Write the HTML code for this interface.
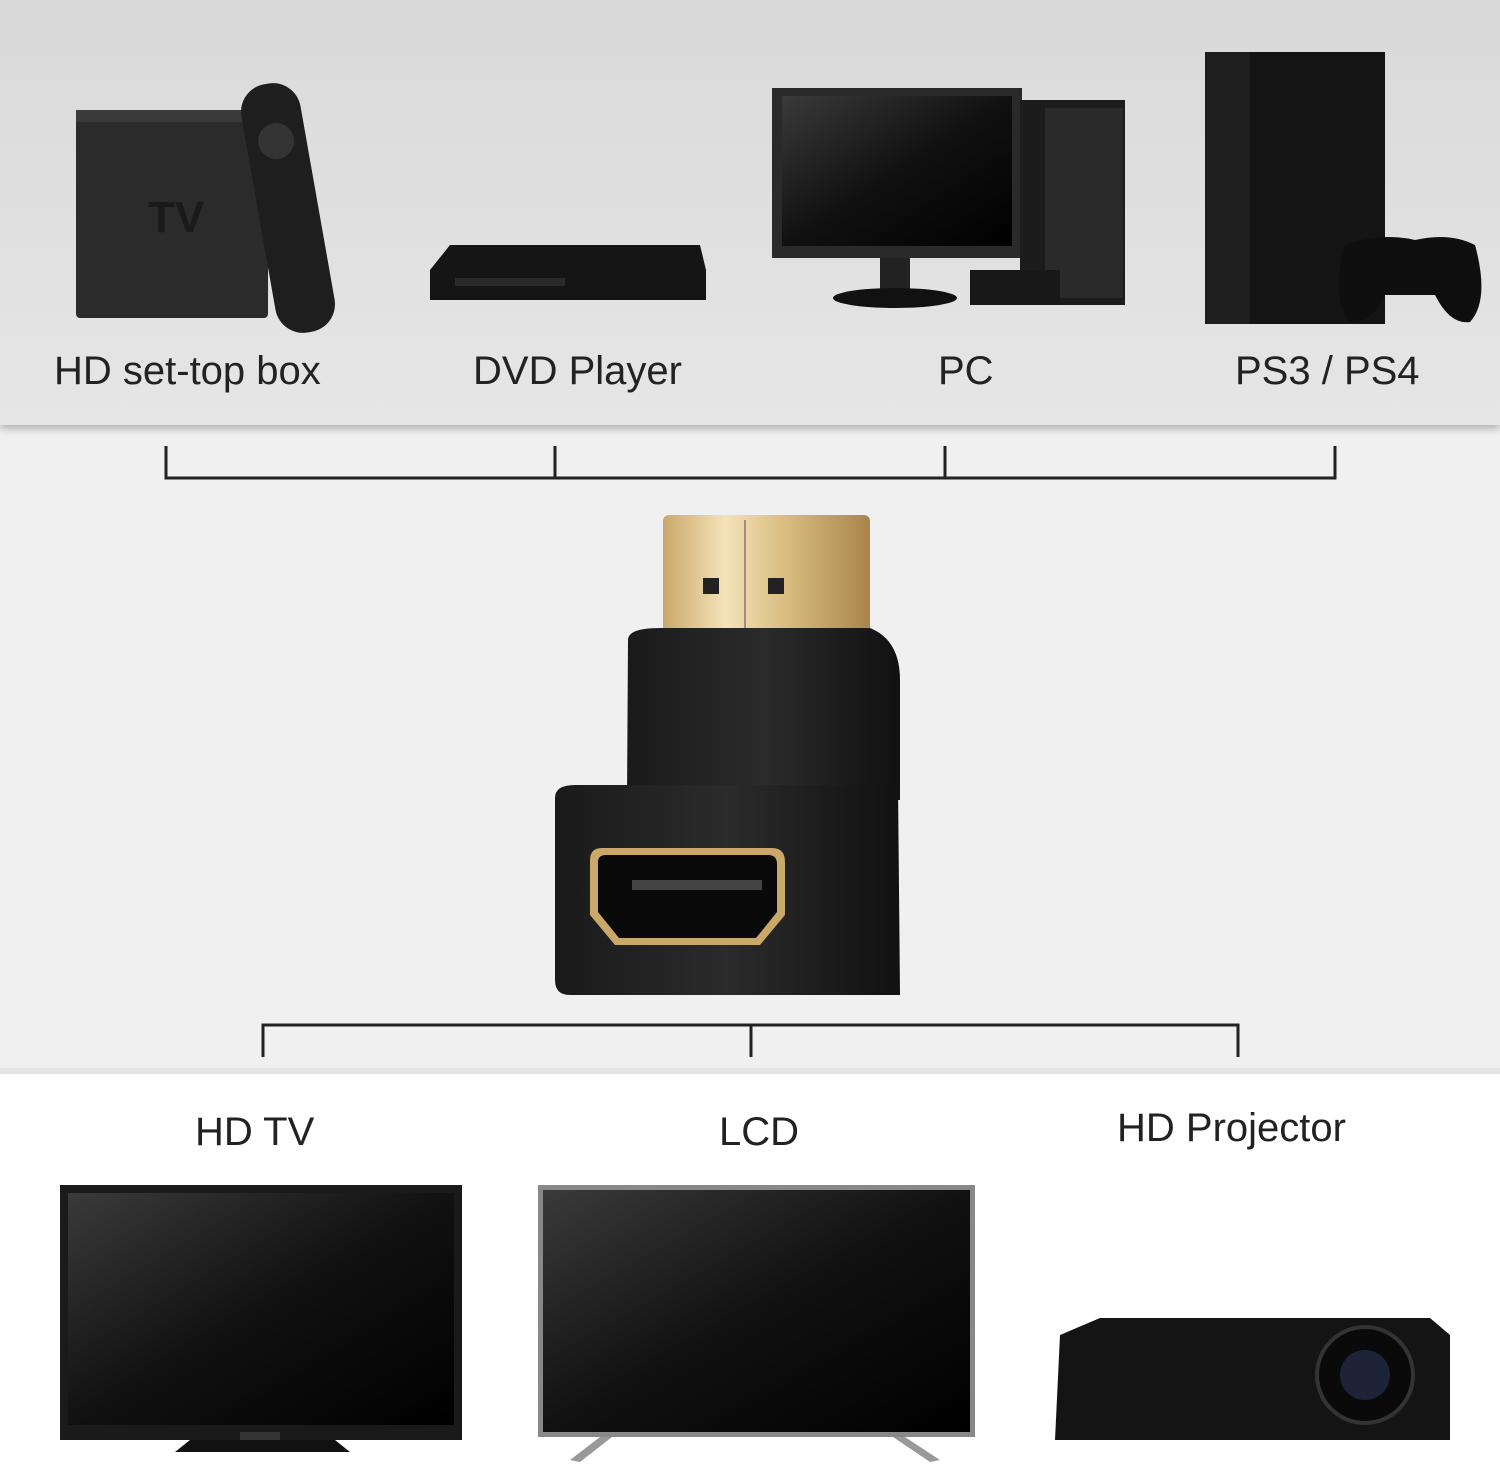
<!DOCTYPE html>
<html><head><meta charset="utf-8"><style>
html,body{margin:0;padding:0;background:#fff}
svg{display:block}
text{font-family:"Liberation Sans",sans-serif;fill:#222}
</style></head><body>
<svg width="1500" height="1475" viewBox="0 0 1500 1475" xmlns="http://www.w3.org/2000/svg">
<defs>
<linearGradient id="bg1" x1="0" y1="0" x2="0" y2="1"><stop offset="0" stop-color="#d9d9d9"/><stop offset="1" stop-color="#e6e6e6"/></linearGradient>
<linearGradient id="scr" x1="0" y1="0" x2="1" y2="1"><stop offset="0" stop-color="#3a3a3a"/><stop offset="0.5" stop-color="#111"/><stop offset="1" stop-color="#000"/></linearGradient>
<linearGradient id="gold" x1="0" y1="0" x2="1" y2="0"><stop offset="0" stop-color="#c9a86a"/><stop offset="0.3" stop-color="#f4e3b8"/><stop offset="0.6" stop-color="#d8bb80"/><stop offset="1" stop-color="#a9854b"/></linearGradient>
<linearGradient id="blk" x1="0" y1="0" x2="1" y2="0"><stop offset="0" stop-color="#1a1a1a"/><stop offset="0.5" stop-color="#2b2b2b"/><stop offset="1" stop-color="#111"/></linearGradient>
<filter id="sh" x="-5%" y="-5%" width="110%" height="130%"><feDropShadow dx="0" dy="4" stdDeviation="4" flood-color="#000" flood-opacity="0.25"/></filter>
</defs>
<rect x="0" y="0" width="1500" height="1475" fill="#fff"/>
<rect x="0" y="425" width="1500" height="647" fill="#f0f0f0"/>
<rect x="0" y="1068" width="1500" height="6" fill="#e4e4e4"/>
<rect x="0" y="0" width="1500" height="425" fill="url(#bg1)" filter="url(#sh)"/>

<!-- TV box + remote -->
<rect x="76" y="110" width="192" height="208" rx="4" fill="#2b2b2b"/>
<rect x="76" y="110" width="192" height="12" fill="#3a3a3a"/>
<text x="148" y="232" font-size="44" font-weight="bold" style="fill:#1a1a1a">TV</text>
<g transform="rotate(-10 288 208)"><rect x="258" y="82" width="60" height="252" rx="28" fill="#1e1e1e"/><circle cx="288" cy="140" r="18" fill="#333"/></g>
<!-- DVD -->
<path d="M430 270 L450 245 L700 245 L706 270 L706 300 L430 300 Z" fill="#151515"/>
<rect x="455" y="278" width="110" height="8" fill="#2a2a2a"/>
<!-- PC monitor -->
<rect x="772" y="88" width="250" height="170" fill="#2a2a2a"/>
<rect x="782" y="96" width="230" height="150" fill="url(#scr)"/>
<rect x="880" y="258" width="30" height="32" fill="#222"/>
<ellipse cx="895" cy="298" rx="62" ry="10" fill="#111"/>
<rect x="1020" y="100" width="105" height="205" fill="#1c1c1c"/>
<rect x="1045" y="108" width="78" height="190" fill="#2a2a2a"/>
<rect x="970" y="270" width="90" height="35" fill="#181818"/>
<!-- PS4 -->
<rect x="1205" y="52" width="180" height="272" fill="#141414"/>
<rect x="1205" y="52" width="45" height="272" fill="#1e1e1e"/>
<path d="M1345 245 Q1380 232 1415 240 Q1450 232 1475 245 Q1490 300 1470 322 Q1450 325 1435 295 L1385 295 Q1370 325 1350 322 Q1330 300 1345 245Z" fill="#0f0f0f"/>

<text x="54" y="384" font-size="40">HD set-top box</text>
<text x="473" y="384" font-size="40">DVD Player</text>
<text x="938" y="384" font-size="40">PC</text>
<text x="1235" y="384" font-size="40">PS3 / PS4</text>

<!-- brackets -->
<g stroke="#222" stroke-width="3" fill="none">
<path d="M166 446 V478 H1335 V446 M555 446 V478 M945 446 V478"/>
<path d="M263 1057 V1025 H1238 V1057 M751 1025 V1057"/>
</g>

<!-- adapter -->
<rect x="663" y="515" width="207" height="150" rx="6" fill="url(#gold)"/>
<rect x="703" y="578" width="16" height="16" fill="#222"/>
<rect x="768" y="578" width="16" height="16" fill="#222"/>
<line x1="745" y1="520" x2="745" y2="660" stroke="#a88" stroke-width="2"/>
<path d="M628 640 Q628 628 660 628 L870 628 Q900 640 900 680 L900 800 L627 800 Z" fill="url(#blk)"/>
<path d="M555 798 Q555 785 575 785 L898 785 L900 995 L570 995 Q555 995 555 980 Z" fill="url(#blk)"/>
<path d="M590 860 Q590 848 602 848 L772 848 Q785 848 785 862 L785 915 L760 945 L615 945 L590 915 Z" fill="#c9a86a"/>
<path d="M598 862 Q598 855 606 855 L768 855 Q777 855 777 864 L777 912 L756 938 L619 938 L598 912 Z" fill="#0a0a0a"/>
<rect x="632" y="880" width="130" height="10" fill="#444"/>

<!-- bottom labels -->
<text x="195" y="1145" font-size="40">HD TV</text>
<text x="719" y="1145" font-size="40">LCD</text>
<text x="1117" y="1141" font-size="40">HD Projector</text>

<!-- HD TV -->
<rect x="60" y="1185" width="402" height="255" fill="#1a1a1a"/>
<rect x="68" y="1193" width="386" height="232" fill="url(#scr)"/>
<rect x="240" y="1432" width="40" height="10" fill="#333"/>
<path d="M175 1452 L190 1440 L335 1440 L350 1452 Z" fill="#111"/>
<!-- LCD -->
<rect x="538" y="1185" width="437" height="252" fill="#888"/>
<rect x="543" y="1190" width="427" height="242" fill="url(#scr)"/>
<path d="M570 1460 L600 1437 L612 1437 L580 1462 Z M940 1460 L905 1437 L893 1437 L930 1462 Z" fill="#999"/>
<!-- Projector -->
<path d="M1060 1335 L1100 1318 L1430 1318 L1450 1335 L1450 1440 L1055 1440 Z" fill="#141414"/>
<circle cx="1365" cy="1375" r="48" fill="#0a0a0a" stroke="#333" stroke-width="4"/>
<circle cx="1365" cy="1375" r="25" fill="#1e2438"/>
</svg>
</body></html>
